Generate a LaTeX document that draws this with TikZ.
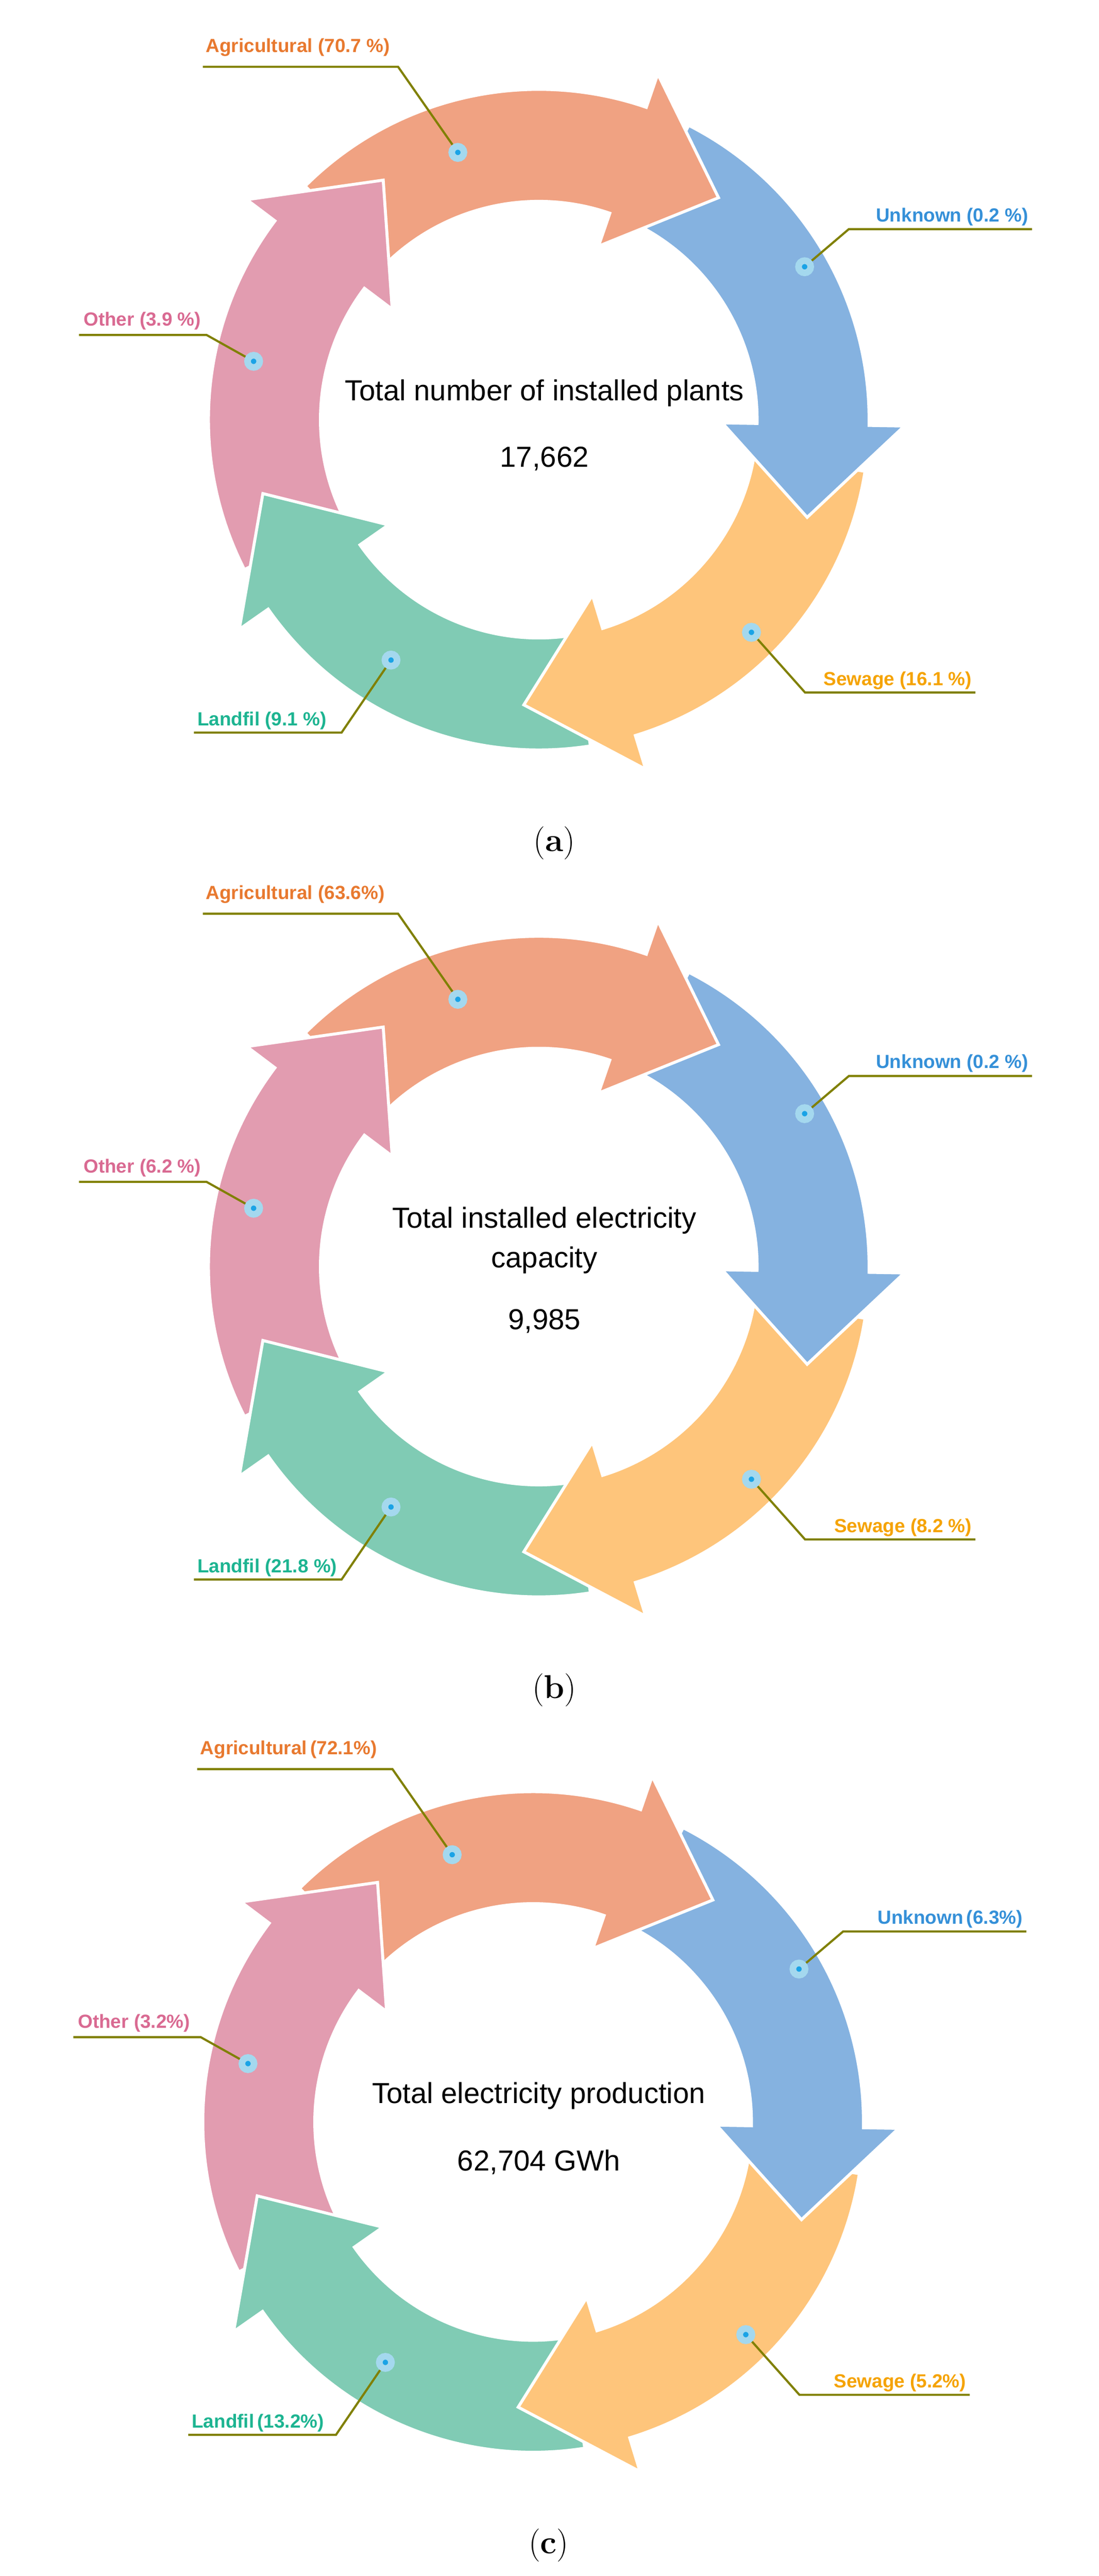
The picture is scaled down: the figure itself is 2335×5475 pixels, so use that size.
\documentclass[tikz,border=0pt]{standalone}
\usepackage{fontspec}
\setmainfont{Latin Modern Roman}
\newfontfamily\labelfont{Liberation Sans}
\usetikzlibrary{positioning}
\definecolor{agricol}{HTML}{F0A282}
\definecolor{unkcol}{HTML}{85B2E0}
\definecolor{sewcol}{HTML}{FEC57B}
\definecolor{landcol}{HTML}{80CBB4}
\definecolor{othcol}{HTML}{E29CB0}
\definecolor{agritxt}{HTML}{E8792F}
\definecolor{unktxt}{HTML}{3590D8}
\definecolor{sewtxt}{HTML}{F5A300}
\definecolor{landtxt}{HTML}{1DB491}
\definecolor{othtxt}{HTML}{D96A92}
\definecolor{leadcol}{HTML}{808000}
\definecolor{dotring}{HTML}{A4D8EE}
\definecolor{dotcore}{HTML}{1AA3E6}
\tikzset{seg/.style={draw=white,line width=1.8pt,line join=miter}}
\tikzset{leader/.style={draw=leadcol,line width=1.3pt}}
\tikzset{pct/.style={font=\labelfont\bfseries\fontsize{11.5}{13}\selectfont,inner sep=0pt}}
\tikzset{dot/.style={circle,fill=dotcore,draw=dotring,line width=4pt,minimum size=0.26cm,inner sep=0pt}}
\tikzset{ttl/.style={font=\labelfont\fontsize{17.5}{24}\selectfont,align=center}}
% one curved arrow of the ring: colour, tail angle, head base angle, tip angle
\newcommand\ringarrow[4]{%
  \path[seg,fill=#1] (#2:464) arc[start angle=#2,end angle=#3,radius=464] -- (#3:390) -- (#4:607)
    -- (#3:777) -- (#3:702) arc[start angle=#3,end angle=#2,radius=702] -- cycle;}

\begin{document}
\begin{tikzpicture}[x=0.01cm,y=0.01cm]
    \useasboundingbox (0,0) rectangle (2335,5475);
    \foreach \cx/\cy/\tag/\agri/\unk/\oth/\sew/\land/\title/\num/\numy in {
        1145/4583/a/{Agricultural (70.7 \%)}/{Unknown (0.2 \%)}/{Other (3.9 \%)}/{Sewage (16.1 \%)}/{Landfil (9.1 \%)}/{Total number of installed plants}/{17,662}/-83,
        1145/2783/b/{Agricultural (63.6\%)}/{Unknown (0.2 \%)}/{Other (6.2 \%)}/{Sewage (8.2 \%)}/{Landfil (21.8 \%)}/{Total installed electricity\\capacity}/{9,985}/-116,
        1133/965/c/{Agricultural\,(72.1\%)}/{Unknown\,(6.3\%)}/{Other (3.2\%)}/{Sewage (5.2\%)}/{Landfil\,(13.2\%)}/{Total electricity production}/{62,704 GWh}/-85}{
    \begin{scope}[shift={(\cx,\cy)}]
        % ring of arrows
        \ringarrow{unkcol}{63}{-1}{-20}
        \ringarrow{agricol}{135}{71}{51}
        \ringarrow{othcol}{-153}{-217}{-237}
        \ringarrow{landcol}{-81}{-145}{-165}
        \ringarrow{sewcol}{-9}{-73}{-93}
        \begin{scope}
            \clip (0,60) rectangle (900,-900);
            \ringarrow{unkcol}{63}{-1}{-20}
        \end{scope}

        \node[ttl] (title\tag) at (12,56) {\title};
        \node[ttl] (num\tag) at (12,\numy) {\num};

        \node[dot] (agridot\tag) at (-172,568) {};
        \node[dot] (unkdot\tag) at (565,325) {};
        \node[dot] (othdot\tag) at (-606,124) {};
        \node[dot] (sewdot\tag) at (452,-452) {};
        \node[dot] (landdot\tag) at (-314,-511) {};

        \coordinate (agribend\tag) at (-299,750);  \coordinate (agriend\tag) at (-714,750);
        \coordinate (unkbend\tag) at (659,405);    \coordinate (unkend\tag) at (1048,405);
        \coordinate (othbend\tag) at (-706,180);   \coordinate (othend\tag) at (-977,180);
        \coordinate (sewbend\tag) at (566,-580);   \coordinate (sewend\tag) at (928,-580);
        \coordinate (landbend\tag) at (-419,-665); \coordinate (landend\tag) at (-733,-665);

        \draw[leader] (agridot\tag) -- (agribend\tag) -- (agriend\tag);
        \draw[leader] (unkdot\tag) -- (unkbend\tag) -- (unkend\tag);
        \draw[leader] (othdot\tag) -- (othbend\tag) -- (othend\tag);
        \draw[leader] (sewdot\tag) -- (sewbend\tag) -- (sewend\tag);
        \draw[leader] (landdot\tag) -- (landbend\tag) -- (landend\tag);

        \node[pct,text=agritxt,anchor=base west] (agrilab\tag) at (-708,781) {\agri};
        \node[pct,text=unktxt,anchor=base east] (unklab\tag) at (1041,421) {\unk};
        \node[pct,text=othtxt,anchor=base west] (othlab\tag) at (-968,199) {\oth};
        \node[pct,text=sewtxt,anchor=base east] (sewlab\tag) at (921,-565) {\sew};
        \node[pct,text=landtxt,anchor=base west] (landlab\tag) at (-726,-650) {\land};

        \node[font=\fontsize{20}{24}\selectfont] (cap\tag) at (33,-900) {(\textbf{\tag})};
    \end{scope}
    }
\end{tikzpicture}
\end{document}
